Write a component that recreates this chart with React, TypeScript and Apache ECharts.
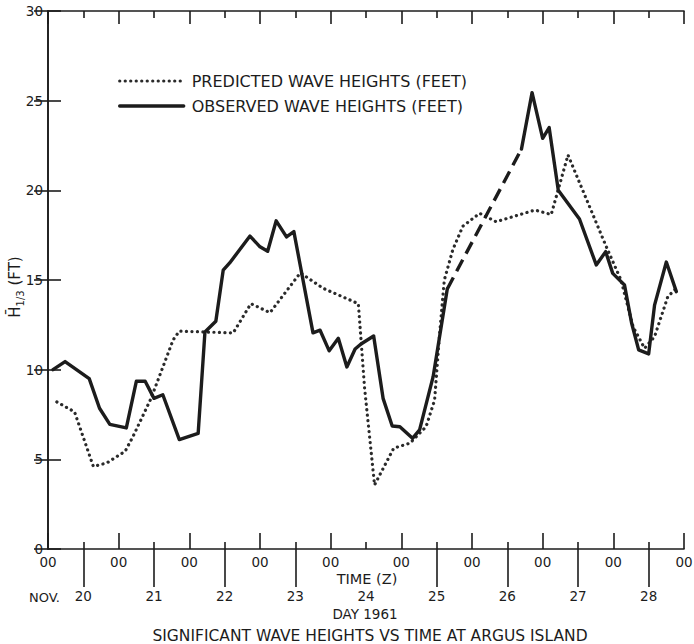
import React, { useEffect, useRef } from "react";
import * as echarts from "echarts";

// Time axis: hours after 00Z on the first "00" mark
const timeTicks = [0, 24, 48, 72, 96, 120, 144, 168, 192, 216];
const dayTickHours = [12, 36, 60, 84, 108, 132, 156, 180, 204];
const dayLabels = ["20", "21", "22", "23", "24", "25", "26", "27", "28"];
const heightTicks = [0, 5, 10, 15, 20, 25, 30];

const predictedHours = [3, 9, 15.4, 20, 26.2, 28.8, 35, 42.5, 44.6, 62.9, 68.9, 75.4, 85.7, 93.4, 105.4, 107.5, 110.9, 117.4, 122.9, 128.4, 131.3, 133, 134.6, 137.5, 140.9, 146.6, 152.2, 165.4, 170.9, 176.6, 189.6, 194.6, 198.7, 202.6, 206, 210.5, 213.4];
const predictedFeet = [8.2, 7.65, 4.6, 4.8, 5.45, 6.25, 8.4, 11.66, 12.15, 12.05, 13.68, 13.18, 15.4, 14.54, 13.68, 9.0, 3.57, 5.62, 5.9, 6.82, 8.3, 12.0, 15.0, 16.7, 18.0, 18.72, 18.25, 18.9, 18.65, 21.97, 16.86, 15.0, 12.4, 11.19, 11.84, 14.07, 14.54];

const observedHoursA = [1.7, 5.8, 14, 17.5, 21, 26.6, 30, 33, 36, 39, 44.6, 51, 53.3, 57, 59.5, 61.7, 68.6, 72, 74.6, 77.5, 81, 83.5, 90, 92.4, 95.5, 98.6, 101.5, 104.3, 106.3, 110.6, 113.8, 116.9, 119.5, 123.8, 126.2, 130.8, 135.6];
const observedFeetA = [10.0, 10.45, 9.5, 7.85, 6.95, 6.75, 9.35, 9.35, 8.4, 8.6, 6.1, 6.45, 12.1, 12.7, 15.55, 15.95, 17.45, 16.85, 16.6, 18.3, 17.4, 17.7, 12.05, 12.2, 11.05, 11.75, 10.15, 11.15, 11.43, 11.88, 8.4, 6.86, 6.82, 6.17, 6.64, 9.61, 14.5];

const missingHours = [135.6, 160.8];
const missingFeet = [14.5, 22.3];

const observedHoursB = [160.8, 164.4, 168, 170.2, 173.3, 180.5, 186.2, 189.4, 191.8, 195.8, 198.2, 200.6, 204, 206, 210, 213.4];
const observedFeetB = [22.3, 25.45, 22.9, 23.5, 20.0, 18.4, 15.84, 16.58, 15.37, 14.72, 12.6, 11.1, 10.88, 13.6, 16.0, 14.35];

const PRED = "PREDICTED WAVE HEIGHTS (FEET)";
const OBS = "OBSERVED WAVE HEIGHTS (FEET)";

const zip = (xs: number[], ys: number[]) => xs.map((x, i) => [x, ys[i]]);

const INK = "#1c1c1c";
const FONT = "DejaVu Sans";
const dotted = { type: [0.1, 5.4] as number[], cap: "round" as const, width: 3.2, color: "#2a2a2a" };
const solid = { type: "solid" as const, width: 3.4, color: INK, join: "round" as const, cap: "round" as const };

export default function App() {
  const ref = useRef<HTMLDivElement>(null);
  useEffect(() => {
    document.body.style.margin = "0";
    const chart = echarts.init(ref.current!, null, { renderer: "svg" });
    const axisLine = { show: true, lineStyle: { color: INK, width: 1.6 } };
    const tickLine = { color: INK, width: 1.6 };
    chart.setOption({
      animation: false,
      backgroundColor: "#ffffff",
      textStyle: { fontFamily: FONT, color: INK },
      grid: { left: 48, right: 10, top: 11, bottom: 95, outerBoundsMode: "none", containLabel: false },
      legend: {
        left: 118,
        top: 73,
        orient: "vertical",
        padding: 0,
        itemWidth: 64,
        itemHeight: 14,
        itemGap: 9,
        selectedMode: false,
        textStyle: { fontFamily: FONT, fontSize: 16, color: INK, padding: [0, 0, 0, 3] },
        data: [
          { name: PRED, lineStyle: { ...dotted }, itemStyle: { opacity: 0 } },
          { name: OBS, lineStyle: { ...solid }, itemStyle: { opacity: 0 } },
        ],
      },
      xAxis: [
        {
          type: "value",
          position: "bottom",
          min: timeTicks[0],
          max: timeTicks[timeTicks.length - 1],
          interval: 24,
          axisLine,
          axisTick: { show: true, inside: true, length: 16, lineStyle: tickLine },
          minorTick: { show: true, splitNumber: 2, length: 7, lineStyle: tickLine },
          splitLine: { show: false },
          minorSplitLine: { show: false },
          axisLabel: { formatter: () => "00", margin: 6, fontSize: 13.5, color: INK, fontFamily: FONT, showMinLabel: true, showMaxLabel: true },
        },
        {
          type: "value",
          position: "bottom",
          min: timeTicks[0],
          max: timeTicks[timeTicks.length - 1],
          axisLine: { show: false },
          axisTick: { show: true, inside: false, length: 38, lineStyle: tickLine, customValues: dayTickHours.filter((h) => h !== 108) },
          splitLine: { show: false },
          axisLabel: {
            customValues: dayTickHours,
            formatter: (v: number) => dayLabels[dayTickHours.indexOf(v)] ?? "",
            margin: 40,
            fontSize: 13.5,
            color: INK,
            fontFamily: FONT,
          },
        },
        {
          type: "value",
          position: "top",
          min: timeTicks[0],
          max: timeTicks[timeTicks.length - 1],
          interval: 24,
          axisLine,
          axisTick: { show: true, inside: true, length: 13, lineStyle: tickLine },
          minorTick: { show: true, splitNumber: 2, length: 7, lineStyle: tickLine },
          splitLine: { show: false },
          axisLabel: { show: false },
        },
      ],
      yAxis: [
        {
          type: "value",
          position: "left",
          min: heightTicks[0],
          max: heightTicks[heightTicks.length - 1],
          interval: 5,
          axisLine,
          axisTick: { show: true, inside: true, length: 13, lineStyle: tickLine },
          splitLine: { show: false },
          axisLabel: { margin: 5, fontSize: 13.5, color: INK, fontFamily: FONT },
        },
        {
          type: "value",
          position: "right",
          min: heightTicks[0],
          max: heightTicks[heightTicks.length - 1],
          interval: 5,
          axisLine,
          axisTick: { show: true, inside: true, length: 14, lineStyle: tickLine },
          splitLine: { show: false },
          axisLabel: { show: false },
        },
      ],
      graphic: [
        {
          type: "text",
          x: 15,
          y: 287,
          rotation: Math.PI / 2,
          style: {
            text: "{h|H\u0304}{s|1/3}{h| (FT)}",
            align: "center",
            verticalAlign: "middle",
            fill: INK,
            fontFamily: FONT,
            rich: {
              h: { fontSize: 15, lineHeight: 20, fontFamily: FONT, fill: INK },
              s: { fontSize: 10, lineHeight: 12, verticalAlign: "bottom", fontFamily: FONT, fill: INK },
            },
          },
        },
        { type: "text", x: 367, y: 579, style: { text: "TIME (Z)", fontFamily: FONT, fontSize: 14.5, fill: INK, textAlign: "center", textVerticalAlign: "middle" } },
        { type: "text", x: 60, y: 597, style: { text: "NOV.", fontFamily: FONT, fontSize: 13, fill: INK, textAlign: "right", textVerticalAlign: "middle" } },
        { type: "text", x: 365, y: 614, style: { text: "DAY 1961", fontFamily: FONT, fontSize: 13.5, fill: INK, textAlign: "center", textVerticalAlign: "middle" } },
        { type: "text", x: 370, y: 636, style: { text: "SIGNIFICANT WAVE HEIGHTS VS TIME AT ARGUS ISLAND", fontFamily: FONT, fontSize: 15.5, fill: INK, textAlign: "center", textVerticalAlign: "middle" } },
      ],
      series: [
        {
          name: PRED,
          type: "line",
          data: zip(predictedHours, predictedFeet),
          symbol: "none",
          silent: true,
          itemStyle: { color: "#2a2a2a" },
          lineStyle: { ...dotted },
          z: 2,
        },
        {
          name: OBS,
          type: "line",
          data: zip(observedHoursA, observedFeetA),
          symbol: "none",
          silent: true,
          itemStyle: { color: INK },
          lineStyle: { ...solid },
          z: 3,
        },
        {
          name: "OBSERVED (MISSING)",
          type: "line",
          data: zip(missingHours, missingFeet),
          symbol: "none",
          silent: true,
          itemStyle: { color: INK },
          lineStyle: { type: [13, 7], width: 3.4, color: INK },
          z: 3,
        },
        {
          name: OBS,
          type: "line",
          data: zip(observedHoursB, observedFeetB),
          symbol: "none",
          silent: true,
          itemStyle: { color: INK },
          lineStyle: { ...solid },
          z: 3,
        },
      ],
    });
    return () => chart.dispose();
  }, []);
  return <div ref={ref} style={{ width: 694, height: 644 }} />;
}
